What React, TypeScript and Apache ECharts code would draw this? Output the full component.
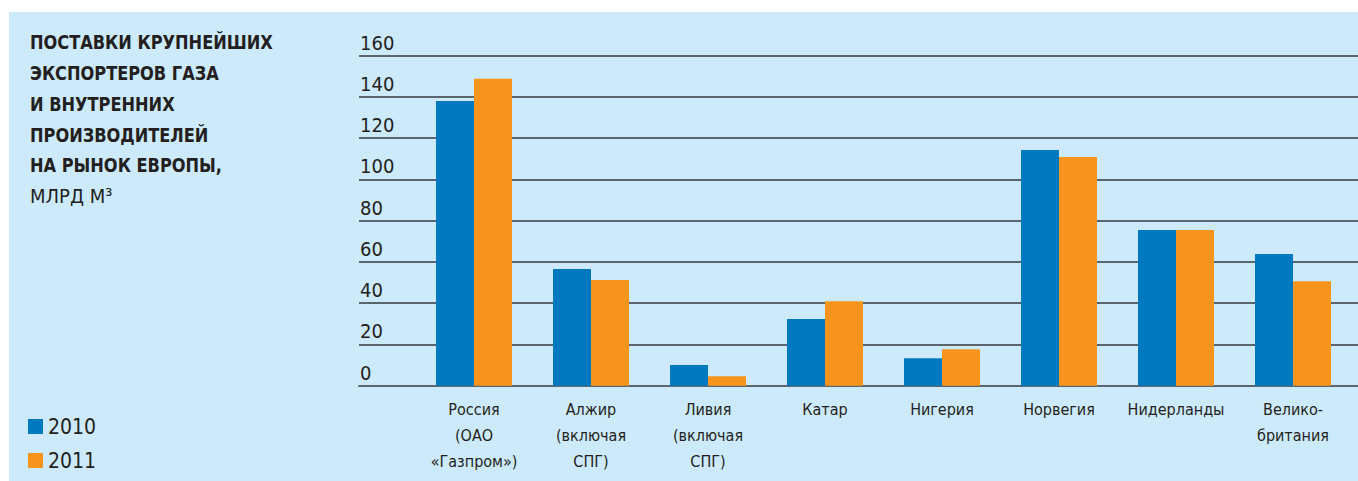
import React, { useEffect, useRef } from "react";
import * as echarts from "echarts";

const categories = [
  "Россия\n(ОАО\n«Газпром»)",
  "Алжир\n(включая\nСПГ)",
  "Ливия\n(включая\nСПГ)",
  "Катар",
  "Нигерия",
  "Норвегия",
  "Нидерланды",
  "Велико-\nбритания",
];
const values2010 = [138, 56.6, 10, 32.3, 13.3, 114.3, 75.5, 63.8];
const values2011 = [148.8, 51.2, 4.6, 41, 17.7, 110.9, 75.5, 50.7];
const seriesNames = ["2010", "2011"];
const titleLines = [
  "ПОСТАВКИ КРУПНЕЙШИХ",
  "ЭКСПОРТЕРОВ ГАЗА",
  "И ВНУТРЕННИХ",
  "ПРОИЗВОДИТЕЛЕЙ",
  "НА РЫНОК ЕВРОПЫ,",
];
const unitText = "МЛРД М³";

const FONT = '"Liberation Sans Narrow", "DejaVu Sans Condensed", "Roboto", sans-serif';
const BLUE = "#0079c1";
const ORANGE = "#f7941d";
const BG = "#cdeafa";
const TEXT = "#231f20";

export default function App() {
  const ref = useRef<HTMLDivElement>(null);
  useEffect(() => {
    if (!ref.current) return;
    const chart = echarts.init(ref.current, null, { renderer: "svg" });
    const top = 55.7;
    const bottom = 481 - 385.7;
    const titleGraphics = titleLines.map((t, i) => ({
      type: "text",
      x: 30,
      y: 41.8 + 30.8 * i,
      scaleX: 0.9,
      silent: true,
      style: {
        text: t,
        fill: TEXT,
        font: `bold 20px ${FONT}`,
        align: "left",
        verticalAlign: "middle",
      },
    }));
    chart.setOption({
      animation: false,
      backgroundColor: "#ffffff",
      textStyle: { fontFamily: FONT },
      graphic: [
        {
          type: "rect",
          z: -10,
          silent: true,
          shape: { x: 9, y: 12, width: 1358 - 9, height: 481 - 12 },
          style: { fill: BG },
        },
        ...titleGraphics,
        {
          type: "text",
          x: 30,
          y: 41.8 + 30.8 * 5,
          silent: true,
          style: {
            text: unitText,
            fill: TEXT,
            font: `20px ${FONT}`,
            align: "left",
            verticalAlign: "middle",
          },
        },
      ],
      legend: seriesNames.map((n, i) => ({
        orient: "vertical",
        left: 28,
        top: 416 + 34 * i,
        padding: 0,
        itemWidth: 15,
        itemHeight: 15,
        itemGap: 5,
        icon: "rect",
        textStyle: {
          fontFamily: FONT,
          fontSize: 21,
          color: TEXT,
        },
        data: [n],
      })),
      grid: [
        { left: 359, right: 0, top, bottom },
        { left: 415.5, right: 6.5, top, bottom },
      ],
      xAxis: [
        {
          gridIndex: 0,
          type: "value",
          min: 0,
          max: 1,
          axisLine: { show: true, lineStyle: { color: "#5c6670", width: 2 } },
          axisTick: { show: false },
          axisLabel: { show: false },
          splitLine: { show: false },
        },
        {
          gridIndex: 1,
          type: "category",
          data: categories,
          axisLine: { show: false },
          axisTick: { show: false },
          axisLabel: {
            margin: 11,
            fontFamily: FONT,
            fontSize: 16,
            lineHeight: 26,
            color: TEXT,
            interval: 0,
          },
        },
      ],
      yAxis: [
        {
          gridIndex: 0,
          type: "value",
          min: 0,
          max: 160,
          interval: 20,
          axisLine: { show: false },
          axisTick: { show: false },
          axisLabel: {
            inside: true,
            margin: 1,
            align: "left",
            verticalAlign: "bottom",
            padding: [0, 0, 3, 0],
            fontFamily: FONT,
            fontSize: 20,
            lineHeight: 20,
            color: TEXT,
          },
          splitLine: { show: true, lineStyle: { color: "#33383e", width: 1.6 } },
        },
        {
          gridIndex: 1,
          type: "value",
          min: 0,
          max: 160,
          interval: 20,
          show: false,
          splitLine: { show: false },
        },
      ],
      series: [
        {
          name: seriesNames[0],
          type: "bar",
          xAxisIndex: 1,
          yAxisIndex: 1,
          data: values2010,
          barWidth: 38,
          barGap: "0%",
          itemStyle: { color: BLUE },
        },
        {
          name: seriesNames[1],
          type: "bar",
          xAxisIndex: 1,
          yAxisIndex: 1,
          data: values2011,
          barWidth: 38,
          barGap: "0%",
          itemStyle: { color: ORANGE },
        },
      ],
    });
    return () => chart.dispose();
  }, []);
  return (
    <div
      ref={ref}
      style={{ position: "absolute", left: 0, top: 0, width: 1358, height: 481 }}
    />
  );
}
